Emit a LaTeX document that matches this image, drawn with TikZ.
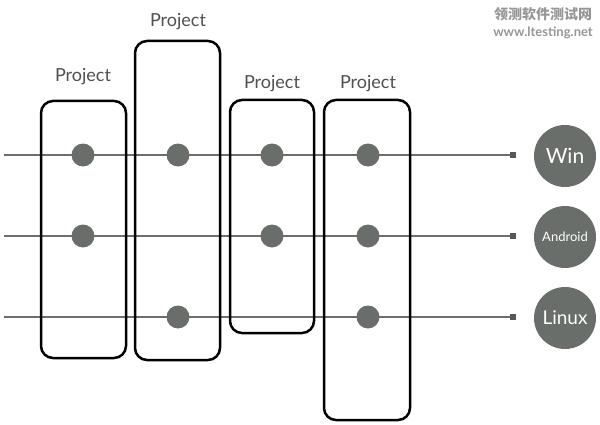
\documentclass[tikz,border=0pt]{standalone}
\usepackage{fontspec}
\setmainfont{Lato}
\newfontfamily\cjkfont{Noto Sans CJK SC}
\usepackage{xcolor}
\definecolor{Black}{RGB}{0,0,0}
\definecolor{White}{RGB}{255,255,255}
\definecolor{DotGray}{RGB}{106,110,107}
\definecolor{LineGray}{RGB}{110,110,110}
\definecolor{TextGray}{RGB}{80,80,80}
\definecolor{MarkGray}{RGB}{150,150,150}
\usepackage{tikz}

\tikzset{
	project/.style={draw=Black, line width=2.5pt, rounded corners=12pt, inner sep=0pt},
	dot/.style={circle, fill=DotGray, minimum size=23pt, inner sep=0pt},
	platform/.style={circle, fill=DotGray, minimum size=62pt, inner sep=0pt, text=White},
	projlabel/.style={text=TextGray, font=\fontsize{18}{21}\selectfont},
	bus/.style={draw=LineGray, line width=1.4pt},
	tipsquare/.style={rectangle, fill=LineGray!80!Black, minimum size=6pt, inner sep=0pt}
}

\begin{document}
\begin{tikzpicture}[x=1pt, y=1pt]

		\useasboundingbox (0,0) rectangle (600,424);

		% Lines
		\coordinate (startA) at (4,269);
		\coordinate (startB) at (4,188);
		\coordinate (startC) at (4,107);
		\node[tipsquare] (tipA) at (513,269) {};
		\node[tipsquare] (tipB) at (513,188) {};
		\node[tipsquare] (tipC) at (513,107) {};
		\draw[bus] (startA) -- (tipA);
		\draw[bus] (startB) -- (tipB);
		\draw[bus] (startC) -- (tipC);

		% Rectangles
		\node[project, minimum width=85pt, minimum height=257pt] (projA) at (83.5,194.5) {};
		\node[project, minimum width=85pt, minimum height=319pt] (projB) at (177.5,223.5) {};
		\node[project, minimum width=84pt, minimum height=233pt] (projC) at (272,207.5) {};
		\node[project, minimum width=86pt, minimum height=320pt] (projD) at (367,164) {};

		% Text
		\node[projlabel] (labelA) at (83,347) {Project};
		\node[projlabel] (labelB) at (178,402) {Project};
		\node[projlabel] (labelC) at (272,340) {Project};
		\node[projlabel] (labelD) at (368,340) {Project};

		% Dots
		\node[dot] (dotA1) at (83,269) {};
		\node[dot] (dotA2) at (83,188) {};
		\node[dot] (dotB1) at (178,269) {};
		\node[dot] (dotB3) at (178,107) {};
		\node[dot] (dotC1) at (272,269) {};
		\node[dot] (dotC2) at (272,188) {};
		\node[dot] (dotD1) at (368,269) {};
		\node[dot] (dotD2) at (368,188) {};
		\node[dot] (dotD3) at (368,107) {};

		% Platforms
		\node[platform, font=\fontsize{21}{23}\selectfont] (win) at (565,268) {Win};
		\node[platform, font=\fontsize{13}{15}\selectfont] (android) at (565,187) {Android};
		\node[platform, font=\fontsize{19}{21}\selectfont] (linux) at (565,106) {Linux};

		% Watermark
		\node[text=MarkGray, font=\cjkfont\bfseries\fontsize{14}{16}\selectfont] (markCN) at (543,410) {领测软件测试网};
		\node[text=MarkGray, font=\bfseries\fontsize{13}{15}\selectfont] (markURL) at (543,391) {www.ltesting.net};

\end{tikzpicture}
\end{document}
